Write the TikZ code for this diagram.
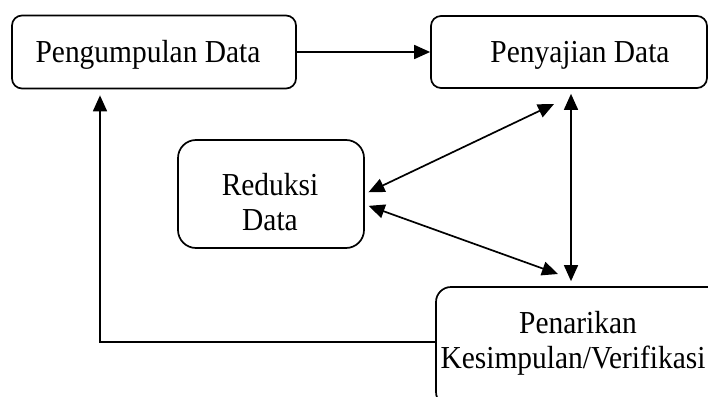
\documentclass[tikz,border=0pt]{standalone}
\usepackage{fontspec}
\setmainfont{Liberation Serif}[FakeStretch=0.92]
\usetikzlibrary{arrows.meta}
\begin{document}
\begin{tikzpicture}[x=1pt,y=-1pt,
  boxnode/.style={draw, line width=1.7pt, rounded corners=#1, inner sep=0pt},
  boxnode/.default=10pt,
  lbl/.style={anchor=base, inner sep=0pt, font=\fontsize{32}{35}\selectfont},
  arr/.style={line width=1.7pt, -{Triangle[length=16pt,width=14pt]}},
  dbl/.style={line width=1.7pt, {Triangle[length=16pt,width=14pt]}-{Triangle[length=16pt,width=14pt]}}]
\useasboundingbox[fill=white] (0,0) rectangle (708,396);

\node[boxnode, minimum width=284pt, minimum height=73pt] (A) at (154,52) {};
\node[boxnode, minimum width=276pt, minimum height=72pt] (B) at (569,52) {};
\node[boxnode=18pt, minimum width=186pt, minimum height=108pt] (C) at (271,194) {};
\node[boxnode=15pt, minimum width=290pt, minimum height=120pt] (D) at (581,347) {};

\node[lbl] (At) at (148,63) {Pengumpulan Data};
\node[lbl] (Bt) at (580,63) {Penyajian Data};
\node[lbl] (Ct1) at (270,195) {Reduksi};
\node[lbl] (Ct2) at (270,230) {Data};
\node[lbl] (Dt1) at (578,333) {Penarikan};
\node[lbl] (Dt2) at (573,368) {Kesimpulan/Verifikasi};

\coordinate (bd) at (554,104);
\coordinate (dd) at (558,274);

\draw[arr] (A) -- (B);
\draw[arr, shorten >=6pt] ([yshift=5pt]D.west) -| ([xshift=-54pt]A.south);
\draw[dbl, shorten <=5pt, shorten >=5pt] ([xshift=2pt]B.south) -- ([xshift=2pt]B.south |- D.north);
\draw[dbl, shorten >=4pt] (bd) -- (C.east);
\draw[dbl, shorten <=4pt] ([yshift=-10.5pt]C.east) -- (dd);
\end{tikzpicture}
\end{document}
